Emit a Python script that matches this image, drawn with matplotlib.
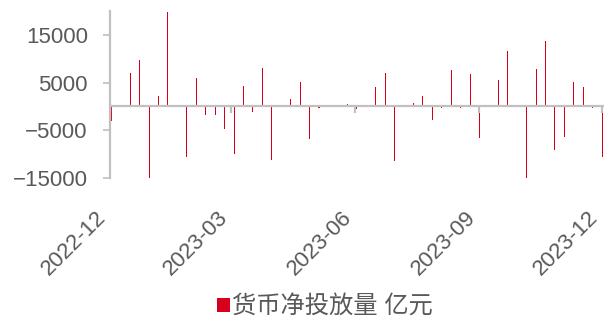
import matplotlib
matplotlib.use('Agg')
import matplotlib.pyplot as plt
import matplotlib.dates as mdates
import matplotlib.transforms as mtransforms
import pandas as pd

plt.rcParams['font.family'] = ['Liberation Sans', 'Noto Sans CJK SC']

# weekly net money injection (100 million yuan), Fridays
weeks = pd.date_range('2022-12-02', '2023-12-01', freq='7D')
net_injection = [
    -3150, 350, 7000, 9800, -15500, 2100, 19700, 0, -10700, 5950,
    -1800, -1750, -4750, -9900, 4350, -1100, 8050, -11300, 300, 1600,
    5100, -6850, -350, 0, 0, 500, -550, 350, 4050, 7050,
    -11500, 200, 800, 2250, -2900, -400, 7600, -400, 6850, -6600,
    0, 5550, 11600, 0, -15500, 7900, 13750, -9200, -6500, 5100,
    4050, -400, -10550,
]
tick_dates = pd.to_datetime(['2022-12-01', '2023-03-01', '2023-06-01', '2023-09-01', '2023-12-01'])
y_ticks = [-15000, -5000, 5000, 15000]
label = '货币净投放量 亿元'

red = '#d6001c'
grey = '#c0c0c0'
text_grey = '#595959'

fig = plt.figure(figsize=(6.09, 3.2), dpi=100)
ax = fig.add_axes([110 / 609, 1 - 178 / 320, 493.5 / 609, 167 / 320])

ax.bar(weeks, net_injection, width=0.75, color=red, label=label)

ax.set_xlim(pd.Timestamp('2022-12-01'), pd.Timestamp('2023-12-02'))
ax.set_ylim(-15000, 20000)
ax.set_yticks(y_ticks)

# zero line with short tick marks hanging below it
ax.axhline(0, color=grey, lw=1.6, zorder=3)
ax.vlines(tick_dates, -1450, 0, color=grey, lw=1.6, zorder=3)

ax.set_xticks(tick_dates)
ax.xaxis.set_major_formatter(mdates.DateFormatter('%Y-%m'))
ax.tick_params(axis='x', length=0, pad=26, labelsize=16, labelcolor=text_grey)
shift = mtransforms.ScaledTranslation(-0.07, 0, fig.dpi_scale_trans)
for t in ax.get_xticklabels():
    t.set_rotation(45)
    t.set_rotation_mode('anchor')
    t.set_ha('right')
    t.set_va('center')
    t.set_transform(t.get_transform() + shift)

ax.tick_params(axis='y', length=5, width=1.2, color=grey, pad=11,
               labelsize=16, labelcolor=text_grey)

for side in ['top', 'right', 'bottom']:
    ax.spines[side].set_visible(False)
ax.spines['left'].set_color(grey)
ax.spines['left'].set_linewidth(1.6)

fig.legend(loc='center', bbox_to_anchor=(325 / 609, 1 - 307 / 320), frameon=False,
           fontsize=17.5, labelcolor=text_grey, handlelength=0.52, handleheight=0.52,
           handletextpad=0.1, borderpad=0)

fig.savefig('out.png', dpi=100)
